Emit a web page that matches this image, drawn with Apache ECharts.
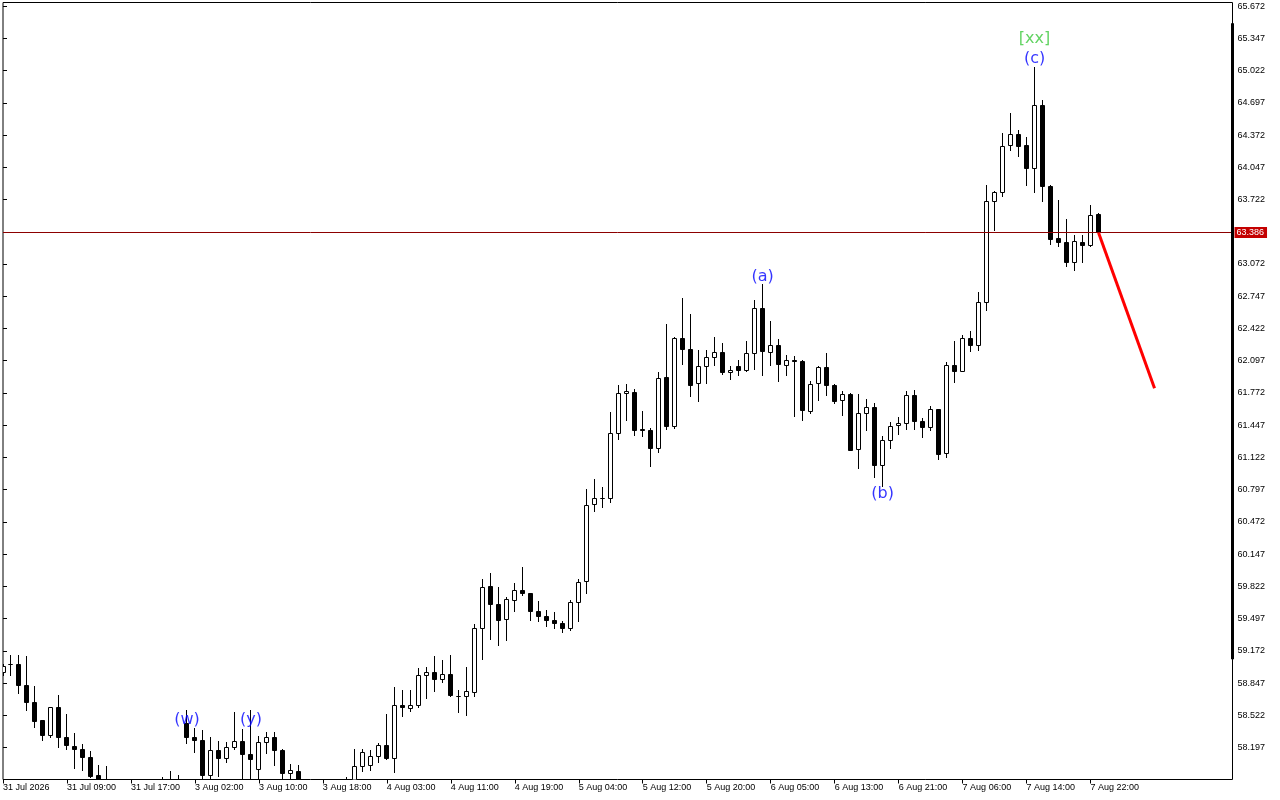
<!DOCTYPE html>
<html><head><meta charset="utf-8">
<script src="https://cdn.jsdelivr.net/npm/echarts@6/dist/echarts.min.js"></script>
<style>html,body{margin:0;padding:0;background:#fff}#chart{width:1280px;height:800px}</style>
</head><body><div id="chart"></div>
<script>
// x-axis tick labels (hourly bars, label every 8 bars)
const labelBars = [0, 8, 16, 24, 32, 40, 48, 56, 64, 72, 80, 88, 96, 104, 112, 120, 128, 136];
const timeLabels = ['31 Jul 2026', '31 Jul 09:00', '31 Jul 17:00', '3 Aug 02:00', '3 Aug 10:00', '3 Aug 18:00',
  '4 Aug 03:00', '4 Aug 11:00', '4 Aug 19:00', '5 Aug 04:00', '5 Aug 12:00', '5 Aug 20:00',
  '6 Aug 05:00', '6 Aug 13:00', '6 Aug 21:00', '7 Aug 06:00', '7 Aug 14:00', '7 Aug 22:00'];
// y-axis tick labels
const yTicks = [58.197, 58.522, 58.847, 59.172, 59.497, 59.822, 60.147, 60.472, 60.797, 61.122, 61.447, 61.772,
  62.097, 62.422, 62.747, 63.072, 63.722, 64.047, 64.372, 64.697, 65.022, 65.347, 65.672];

const open = [
58.951,59.039,59.039,58.827,58.656,58.467,58.316,58.602,58.300,58.212,
58.182,58.098,57.920,57.849,57.62,57.55,57.60,57.52,57.58,57.63,
57.70,57.78,57.84,58.444,58.300,58.273,57.913,58.169,58.088,58.199,
58.263,58.128,57.980,58.249,58.300,58.172,57.937,57.960,57.79,57.72,
57.68,57.74,57.70,57.78,57.849,58.010,58.013,58.104,58.222,58.088,
58.622,58.592,58.618,58.921,58.955,58.885,58.935,58.716,58.709,58.749,
59.399,59.825,59.641,59.489,59.677,59.785,59.751,59.566,59.523,59.482,
59.449,59.399,59.661,59.868,60.652,60.709,60.709,61.364,61.768,61.778,
61.405,61.398,61.209,61.929,61.431,62.322,62.211,61.865,62.036,62.127,
62.181,61.975,62.036,61.996,62.171,62.625,62.181,62.252,62.046,62.103,
62.093,61.582,61.865,62.030,61.851,61.700,61.761,61.203,61.566,61.630,
61.038,61.297,61.441,61.465,61.743,61.481,61.425,61.606,61.163,62.046,
61.993,62.322,62.248,62.688,63.699,63.794,64.264,64.379,64.264,64.036,
64.667,63.857,63.330,63.290,63.088,63.290,63.256,63.575];
const close = [
59.019,59.032,58.820,58.653,58.457,58.316,58.602,58.296,58.215,58.179,
58.098,57.910,57.769,57.668,57.55,57.60,57.52,57.58,57.63,57.70,
57.78,57.84,57.80,58.300,58.266,57.913,58.169,58.088,58.199,58.263,
58.128,58.081,58.249,58.300,58.165,57.937,57.967,57.789,57.72,57.68,
57.74,57.70,57.78,57.84,58.010,58.152,58.104,58.222,58.088,58.618,
58.602,58.622,58.925,58.955,58.885,58.935,58.719,58.711,58.759,59.399,
59.812,59.641,59.482,59.691,59.785,59.751,59.566,59.516,59.475,59.449,
59.399,59.661,59.862,60.635,60.709,60.704,61.364,61.768,61.791,61.391,
61.391,61.209,61.919,61.431,62.322,62.211,61.851,62.036,62.131,62.181,
61.975,62.003,61.996,62.171,62.625,62.187,62.252,62.060,62.103,62.090,
61.592,61.858,62.030,61.844,61.683,61.758,61.196,61.566,61.630,61.038,
61.290,61.431,61.465,61.743,61.481,61.425,61.606,61.153,62.046,61.985,
62.322,62.248,62.681,63.699,63.790,64.254,64.379,64.254,64.036,64.667,
63.850,63.323,63.286,63.084,63.303,63.256,63.565,63.386];
const low = [
58.928,58.921,58.743,58.575,58.397,58.266,58.303,58.195,58.179,57.987,
57.963,57.893,57.668,57.607,57.48,57.50,57.45,57.47,57.54,57.58,
57.65,57.73,57.74,58.239,58.149,57.819,57.809,57.903,58.044,58.179,
57.849,57.859,57.849,58.139,58.021,57.839,57.859,57.718,57.66,57.62,
57.63,57.65,57.66,57.74,57.809,57.953,57.963,58.044,58.078,57.947,
58.508,58.558,58.602,58.693,58.759,58.850,58.709,58.548,58.525,58.709,
59.086,59.291,59.230,59.274,59.566,59.727,59.482,59.472,59.415,59.399,
59.354,59.382,59.472,59.751,60.574,60.614,60.665,61.304,61.498,61.347,
61.337,61.028,61.176,61.408,61.418,62.063,61.733,61.683,61.872,62.053,
61.959,61.909,61.945,61.985,62.013,61.952,62.053,61.892,61.952,61.532,
61.491,61.566,61.693,61.743,61.667,61.542,61.189,61.007,61.398,60.921,
60.826,61.213,61.357,61.408,61.408,61.320,61.398,61.105,61.118,61.878,
61.985,62.187,62.197,62.607,63.407,63.750,64.220,64.160,63.868,63.790,
63.699,63.270,63.245,63.051,63.004,63.088,63.248,63.384];
const high = [
59.039,59.129,59.129,59.112,58.810,58.474,58.605,58.726,58.535,58.340,
58.232,58.162,58.013,58.003,57.70,57.68,57.66,57.64,57.70,57.80,
57.895,57.953,57.920,58.575,58.391,58.366,58.300,58.263,58.249,58.548,
58.383,58.575,58.306,58.350,58.350,58.182,58.026,58.021,57.84,57.80,
57.79,57.82,57.85,57.897,58.182,58.177,58.172,58.239,58.535,58.800,
58.777,58.777,58.995,59.006,59.119,59.079,59.129,58.777,59.006,59.439,
59.896,59.953,59.812,59.714,59.852,60.010,59.751,59.674,59.583,59.560,
59.472,59.677,59.896,60.803,60.901,60.820,61.576,61.851,61.858,61.811,
61.589,61.415,61.979,62.466,62.332,62.725,62.567,62.199,62.197,62.332,
62.272,62.043,62.103,62.295,62.708,62.870,62.497,62.315,62.147,62.137,
62.103,61.892,62.035,62.171,61.858,61.791,61.768,61.761,61.710,61.667,
61.330,61.471,61.526,61.791,61.801,61.516,61.633,61.610,62.080,62.295,
62.355,62.396,62.784,63.868,63.807,64.389,64.590,64.422,64.348,65.050,
64.724,63.862,63.716,63.522,63.364,63.364,63.666,63.580];

const currentPrice = 63.386;
const forecast = [[137, 63.386], [144, 61.82]];
// wave labels: [bar index, price, text]
const waveBlue = [[23, 58.474, '(w)'], [31, 58.474, '(y)'], [95, 62.943, '(a)'], [110, 60.753, '(b)'], [129, 65.135, '(c)']];
const waveGreen = [[129, 65.339, '[xx]']];
const scaleBar = [59.086, 65.498];

const candles = open.map((o, i) => [i, o, close[i], low[i], high[i]]);
const AX_FONT = 'Liberation Sans';

function renderCandle(params, api) {
  const x = api.value(0), o = api.value(1), c = api.value(2), l = api.value(3), h = api.value(4);
  const pO = api.coord([x, o]), pC = api.coord([x, c]);
  const pL = api.coord([x, l]), pH = api.coord([x, h]);
  const cx = Math.floor(pO[0]) + 0.5;
  const up = c > o;
  const top = Math.floor(Math.min(pO[1], pC[1])) + 0.5;
  const bot = Math.floor(Math.max(pO[1], pC[1])) + 0.5;
  return {
    type: 'group',
    children: [
      {type: 'line', shape: {x1: cx, y1: Math.floor(pH[1]), x2: cx, y2: Math.floor(pL[1]) + 1},
       style: {stroke: '#000', lineWidth: 1}},
      {type: 'rect', shape: {x: cx - 2, y: top, width: 4, height: Math.max(bot - top, 0)},
       style: {fill: up ? '#ffffff' : '#000000', stroke: '#000', lineWidth: 1}}
    ]
  };
}

const chart = echarts.init(document.getElementById('chart'), null, {renderer: 'canvas'});
chart.setOption({
  animation: false,
  backgroundColor: '#ffffff',
  grid: {left: 2.5, top: 2.5, right: 47.5, bottom: 20.5, show: true, borderColor: '#000', borderWidth: 1, backgroundColor: '#fff'},
  xAxis: {
    type: 'value', min: 0, max: 153.75,
    axisLine: {show: false},
    splitLine: {show: false},
    axisTick: {show: true, customValues: labelBars, length: 4, lineStyle: {color: '#000'}},
    axisLabel: {
      customValues: labelBars, align: 'left', margin: 4,
      fontFamily: AX_FONT, fontSize: 9, color: '#000',
      formatter: v => timeLabels[labelBars.indexOf(Math.round(v))]
    }
  },
  yAxis: {
    type: 'value', position: 'right', min: 57.875, max: 65.708, scale: true,
    axisLine: {show: false},
    splitLine: {show: false},
    axisTick: {show: true, customValues: yTicks, length: 4, lineStyle: {color: '#000'}},
    axisLabel: {
      customValues: yTicks, margin: 5,
      fontFamily: AX_FONT, fontSize: 9, color: '#000',
      formatter: v => v.toFixed(3)
    }
  },
  series: [
    {
      type: 'custom',
      renderItem: renderCandle,
      data: candles,
      encode: {x: 0, y: [1, 2, 3, 4]},
      clip: true,
      z: 3,
      markLine: {
        silent: true, symbol: 'none', animation: false,
        lineStyle: {color: '#8c0000', width: 1, type: 'solid'},
        label: {
          show: true, position: 'end', distance: 2,
          formatter: () => currentPrice.toFixed(3),
          backgroundColor: '#c40000', color: '#fff',
          fontFamily: AX_FONT, fontSize: 9, padding: [1, 3, 1, 2]
        },
        data: [{yAxis: currentPrice}]
      }
    },
    {
      type: 'line', data: forecast, symbol: 'none', clip: true,
      lineStyle: {color: '#ff0000', width: 3}, z: 5
    },
    {
      type: 'scatter', symbolSize: 0, z: 6,
      data: waveBlue.map(d => ({value: [d[0], d[1]], name: d[2]})),
      label: {show: true, position: 'inside', formatter: '{b}', color: '#0000ff', fontFamily: 'DejaVu Sans', fontSize: 16}
    },
    {
      type: 'scatter', symbolSize: 0, z: 6,
      data: waveGreen.map(d => ({value: [d[0], d[1]], name: d[2]})),
      label: {show: true, position: 'inside', formatter: '{b}', color: '#3cc83c', fontFamily: 'DejaVu Sans', fontSize: 16}
    }
  ]
});

const yTop = chart.convertToPixel({yAxisIndex: 0}, scaleBar[1]);
const yBot = chart.convertToPixel({yAxisIndex: 0}, scaleBar[0]);
chart.setOption({
  graphic: [{type: 'rect', z: 20, shape: {x: 1231, y: yTop, width: 3, height: yBot - yTop}, style: {fill: '#000'}}]
});
</script>
</body></html>
